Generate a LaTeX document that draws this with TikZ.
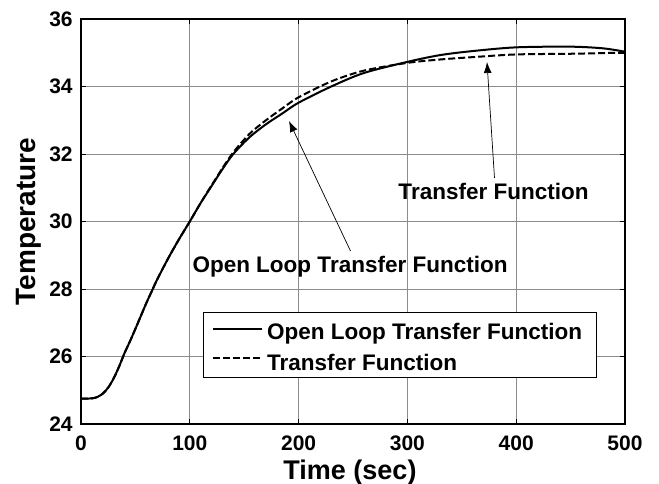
\documentclass[tikz,border=0pt]{standalone}
\usepackage{fontspec}
\setmainfont{Liberation Sans}
\usetikzlibrary{arrows.meta}
\tikzset{
  gridline/.style={draw=black!45, line width=0.7pt},
  axisbox/.style={draw=black, line width=1.3pt},
  tickmark/.style={draw=black, line width=0.9pt},
  ticklabel/.style={font=\fontsize{21}{24}\selectfont\bfseries, inner sep=0pt},
  axlabel/.style={font=\fontsize{27}{30}\selectfont\bfseries, inner sep=0pt},
  ylab/.style={font=\fontsize{28}{31}\selectfont\bfseries, inner sep=0pt},
  notetext/.style={font=\fontsize{22.5}{26}\selectfont\bfseries, inner sep=0pt},
  solidcurve/.style={draw=black, line width=2pt, line join=round},
  dashcurve/.style={draw=black, line width=2pt, dash pattern=on 7pt off 3pt},
  pointer/.style={draw=black, line width=0.7pt, -{Latex[length=11pt, width=8pt]}},
}
\begin{document}
\begin{tikzpicture}[x=1pt, y=-1pt]
\useasboundingbox (0,0) rectangle (659,484);
\fill[white] (0,0) rectangle (659,484);

% plot area: t in [0,500] -> x in [81,625]; T in [24,36] -> y in [424,19]
\begin{scope}[shift={(81,424)}, x=1.088pt, y=33.75pt]
  % grid
  \foreach \t in {100,200,300,400} \draw[gridline] (\t,0) -- (\t,12);
  \foreach \v in {2,4,6,8,10} \draw[gridline] (0,\v) -- (500,\v);

  % curves
  \draw[dashcurve] plot[smooth, tension=0.5] coordinates {
    (0,0.75) (10,0.76) (15,0.8) (20,0.9) (25,1.08) (30,1.35) (35,1.7)
    (40,2.1) (45,2.45) (50,2.82) (55,3.2) (60,3.58) (66,4.0) (70,4.28)
    (80,4.9) (90,5.47) (100,6.0) (110,6.55) (120,7.07) (130,7.58)
    (140,8.05) (155,8.6) (170,9.0) (185,9.35) (200,9.68) (230,10.15)
    (260,10.47) (300,10.7) (330,10.8) (360,10.87) (400,10.95)
    (450,10.97) (480,10.99) (500,11.0)};
  \draw[solidcurve] plot[smooth, tension=0.5] coordinates {
    (0,0.75) (10,0.76) (15,0.8) (20,0.9) (25,1.08) (30,1.35) (35,1.7)
    (40,2.1) (45,2.45) (50,2.82) (55,3.2) (60,3.58) (66,4.0) (70,4.28)
    (80,4.9) (90,5.47) (100,6.0) (110,6.55) (120,7.05) (130,7.55)
    (140,8.0) (155,8.5) (170,8.88) (185,9.2) (200,9.52) (230,10.0)
    (260,10.4) (300,10.73) (330,10.93) (360,11.05) (400,11.16)
    (450,11.18) (480,11.13) (500,11.03)};

  % ticks on all four sides
  \foreach \t in {0,100,200,300,400,500} {
    \draw[tickmark] (\t,0) -- ++(0,0.15);
    \draw[tickmark] (\t,12) -- ++(0,-0.15);
  }
  \foreach \v in {0,2,4,6,8,10,12} {
    \draw[tickmark] (0,\v) -- ++(5,0);
    \draw[tickmark] (500,\v) -- ++(-5,0);
  }
  % frame
  \draw[axisbox] (0,0) rectangle (500,12);

  % tick labels
  \foreach \t in {0,100,200,300,400,500}
    \node[ticklabel, anchor=north] (xl\t) at (\t,-0.35) {\t};
  \foreach \v/\lab in {0/24,2/26,4/28,6/30,8/32,10/34,12/36}
    \node[ticklabel, anchor=east] (yl\lab) at (-7.5,\v) {\lab};
\end{scope}

% axis labels
\node[axlabel, anchor=base] (xlabel) at (350,479) {Time (sec)};
\node[ylab, rotate=90, anchor=base] (ylabel) at (35.5,221.5) {Temperature};

% annotations
\node[notetext, anchor=base] (noteOL) at (350,272.5) {Open Loop Transfer Function};
\node[notetext, anchor=base] (noteTF) at (493.5,199.3) {Transfer Function};
\coordinate (tipOL) at (289,121);
\coordinate (tailOL) at (350.5,251);
\coordinate (tipTF) at (487,62);
\coordinate (tailTF) at (494.5,178);
\draw[pointer] (tailOL) -- (tipOL);
\draw[pointer] (tailTF) -- (tipTF);

% legend
\node[draw=black, line width=1.2pt, fill=white, minimum width=393pt,
      minimum height=65pt, anchor=north west, inner sep=0pt] (legend) at (203,312) {};
\coordinate (ls1) at (213,329);
\coordinate (le1) at (262,329);
\coordinate (ls2) at (213,358);
\coordinate (le2) at (262,358);
\draw[solidcurve] (ls1) -- (le1);
\draw[dashcurve, dash pattern=on 6.5pt off 3.5pt] (ls2) -- (le2);
\node[notetext, anchor=base west] (legOL) at (267,339) {Open Loop Transfer Function};
\node[notetext, anchor=base west] (legTF) at (267,370) {Transfer Function};
\end{tikzpicture}
\end{document}
